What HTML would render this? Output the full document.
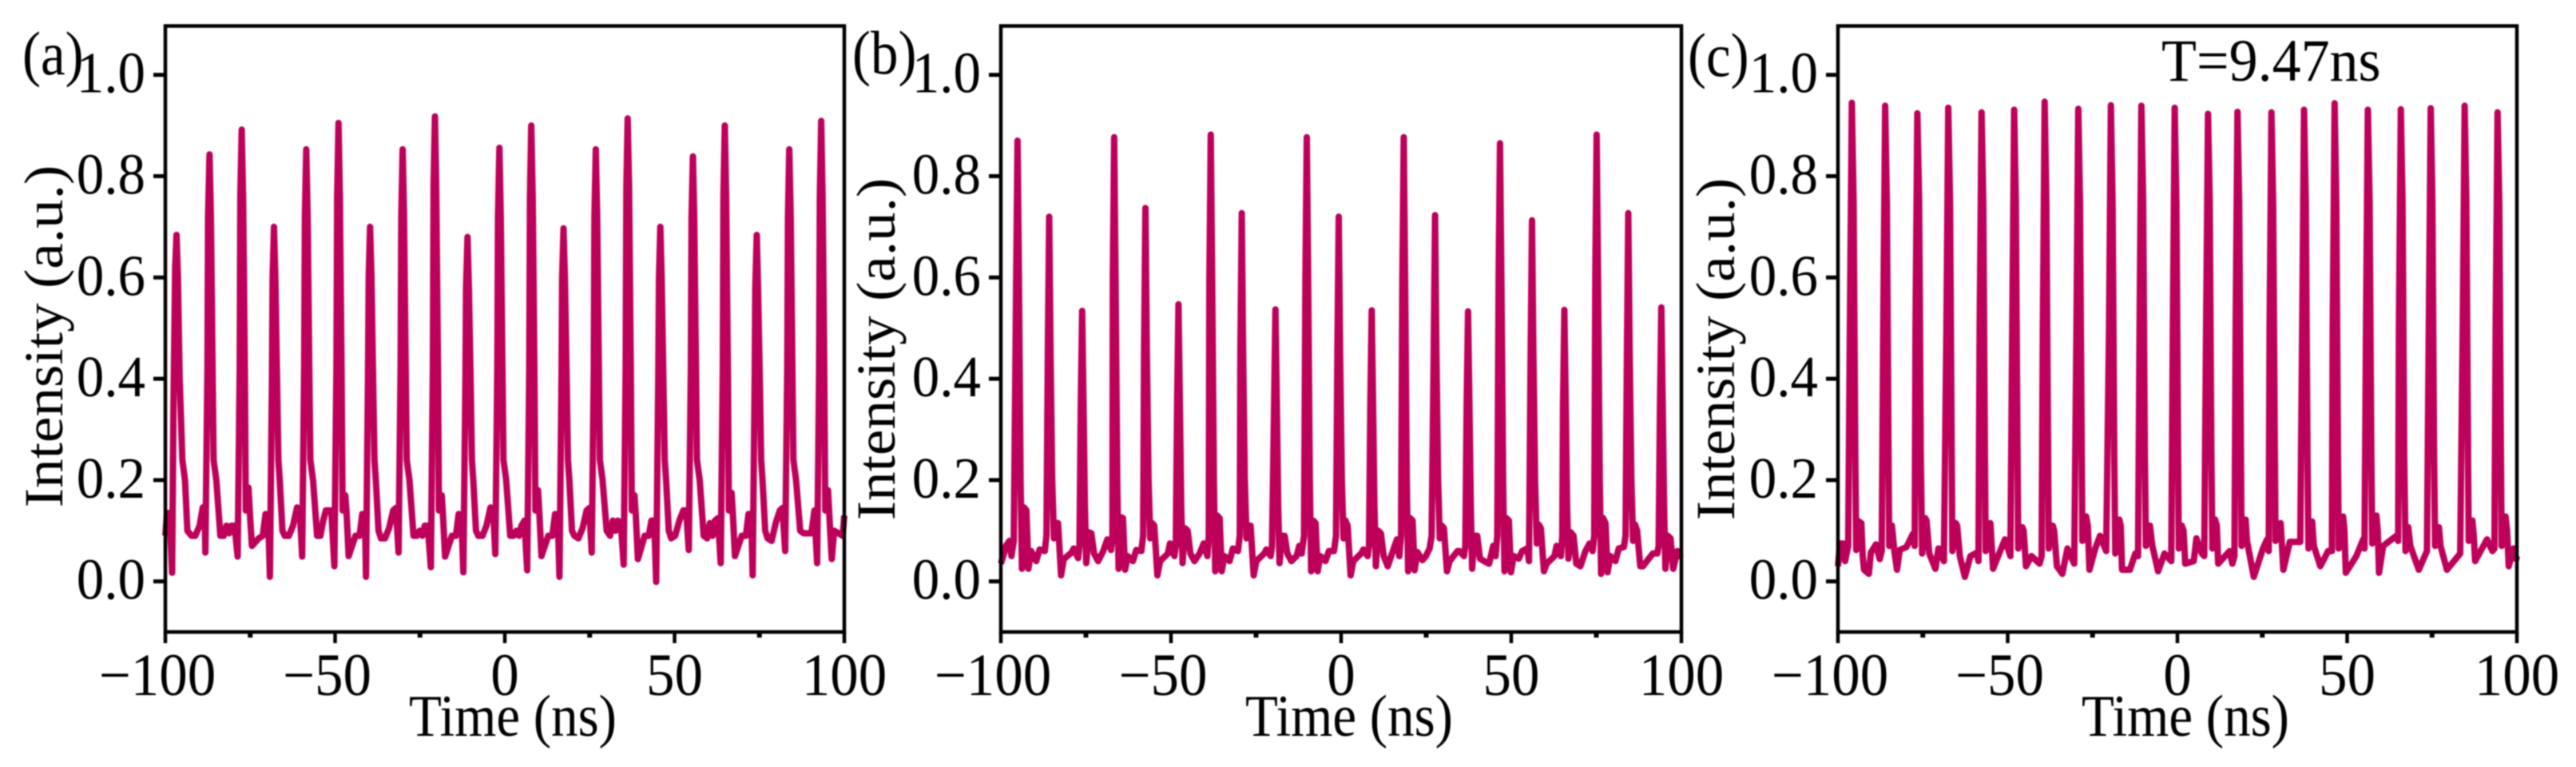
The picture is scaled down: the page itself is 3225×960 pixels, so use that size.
<!DOCTYPE html>
<html lang="en">
<head>
<meta charset="utf-8">
<title>Pulse train intensity vs time</title>
<style>
html,body{margin:0;padding:0;background:#fff;width:3225px;height:960px;overflow:hidden}
svg{display:block;filter:blur(0.7px)}
text{font-family:"Liberation Serif","Times New Roman",serif;fill:#000}
</style>
</head>
<body>
<svg id="figure" xmlns="http://www.w3.org/2000/svg" width="3225" height="960" viewBox="0 0 3225 960"></svg>
<script>
const xTickValues = [-100, -50, 0, 50, 100];
const xMinorTickValues = [-75, -25, 25, 75];
const yTickValues = [0, 0.2, 0.4, 0.6, 0.8, 1.0];
const xTickLabels = ['\u2212100', '\u221250', '0', '50', '100'];
const yTickLabels = ['0.0', '0.2', '0.4', '0.6', '0.8', '1.0'];

const timesA = [
-100,-99.5,-98.8,-98.0,-97.6,-97.1,-96.7,-96.3,-95.8,-95.0,-94.2,-93.5,-92.3,-91.2,-89.9,-89,-88.4,
-88.2,-87.6,-87.4,-87,-86.6,-86.1,-85.8,-85,-83.8,-82.8,-82,-81.2,-80.5,-79.6,
-78.7,-78.1,-77.9,-77.5,-77.1,-76.6,-76.3,-76,-75.5,-75.1,-74.5,-72.5,-71.3,-70.5,-69.7,
-69.2,-68.6,-68.4,-68,-67.6,-67.1,-66.7,-66.3,-65.5,-64.8,-63.6,-62.4,-61.2,-60.4,
-59.7,-59.1,-58.9,-58.5,-58.1,-57.6,-57.3,-56.5,-55.3,-54.3,-53.5,-52.7,-52,-51.1,
-50.2,-49.6,-49.4,-49,-48.6,-48.1,-47.8,-47.5,-47,-46.6,-46,-44,-42.8,-42,-41.2,
-40.9,-40.3,-40.1,-39.7,-39.3,-38.8,-38.4,-38,-37.2,-36.5,-35.3,-34.1,-32.9,-32.1,
-31.3,-30.7,-30.5,-30.1,-29.7,-29.2,-28.9,-28.1,-26.9,-25.9,-25.1,-24.3,-23.6,-22.7,
-21.8,-21.2,-21,-20.6,-20.2,-19.7,-19.4,-19.1,-18.6,-18.2,-17.6,-15.6,-14.4,-13.6,-12.8,
-12.2,-11.6,-11.4,-11,-10.6,-10.1,-9.7,-9.3,-8.5,-7.8,-6.6,-5.4,-4.2,-3.4,
-2.8,-2.2,-2,-1.6,-1.2,-0.7,-0.4,0.4,1.6,2.6,3.4,4.2,4.9,5.8,
6.6,7.2,7.4,7.8,8.2,8.7,9,9.3,9.8,10.2,10.8,12.8,14,14.8,15.6,
16.1,16.7,16.9,17.3,17.7,18.2,18.6,19,19.8,20.5,21.7,22.9,24.1,24.9,
25.6,26.2,26.4,26.8,27.2,27.7,28,28.8,30,31,31.8,32.6,33.3,34.2,
35,35.6,35.8,36.2,36.6,37.1,37.4,37.7,38.2,38.6,39.2,41.2,42.4,43.2,44,
44.6,45.2,45.4,45.8,46.2,46.7,47.1,47.5,48.3,49,50.2,51.4,52.6,53.4,
54.2,54.8,55,55.4,55.8,56.3,56.6,57.4,58.6,59.6,60.4,61.2,61.9,62.8,
63.6,64.2,64.4,64.8,65.2,65.7,66,66.3,66.8,67.2,67.8,69.8,71,71.8,72.6,
73,73.6,73.8,74.2,74.6,75.1,75.5,75.9,76.7,77.4,78.6,79.8,81,81.8,
82.6,83.2,83.4,83.8,84.2,84.7,85,85.8,87,88,88.8,89.6,90.3,91.2,
92,92.6,92.8,93.2,93.6,94.1,94.4,94.7,95.2,95.6,96.3,97,99.5,100
];
const intensityA = [
.09,.135,.135,.017,.35,.62,.684,.6,.4,.24,.2,.1,.09,.09,.11,.146,.14,
.057,.42,.72,.843,.72,.42,.24,.2,.09,.09,.11,.095,.11,.11,
.049,.42,.76,.892,.76,.42,.14,.185,.185,.135,.07,.085,.09,.133,.13,
.009,.4,.6,.70,.6,.4,.24,.2,.1,.09,.09,.11,.146,.14,
.049,.42,.72,.853,.72,.42,.24,.2,.09,.09,.12,.14,.14,.14,
.03,.42,.76,.905,.76,.42,.14,.17,.17,.135,.05,.09,.09,.133,.13,
.009,.4,.6,.7,.6,.4,.24,.2,.1,.085,.085,.105,.14,.145,
.057,.42,.72,.853,.72,.42,.24,.2,.09,.09,.1,.09,.11,.11,
.028,.42,.78,.918,.78,.42,.14,.17,.17,.13,.049,.09,.09,.133,.13,
.018,.4,.58,.68,.58,.4,.24,.2,.1,.09,.09,.11,.146,.14,
.054,.42,.72,.856,.72,.42,.24,.2,.09,.09,.1,.09,.11,.12,
.022,.42,.76,.9,.76,.42,.14,.18,.18,.13,.05,.09,.09,.133,.13,
.009,.4,.6,.697,.6,.4,.24,.2,.1,.09,.085,.105,.14,.145,
.057,.42,.72,.853,.72,.42,.24,.2,.1,.09,.12,.1,.12,.115,
.033,.42,.78,.914,.78,.42,.14,.17,.17,.13,.044,.09,.09,.12,.12,
-.001,.4,.6,.70,.6,.4,.24,.2,.1,.085,.09,.12,.14,.14,
.062,.42,.72,.839,.72,.42,.24,.2,.09,.085,.115,.09,.12,.125,
.036,.42,.76,.90,.76,.42,.14,.175,.175,.13,.05,.09,.09,.133,.133,
.012,.4,.58,.684,.58,.4,.24,.2,.1,.085,.08,.115,.14,.145,
.06,.42,.72,.853,.72,.42,.24,.2,.1,.095,.095,.095,.095,.14,
.036,.42,.76,.909,.76,.42,.14,.18,.18,.13,.044,.1,.09,.13
];

const timesB = [
-100,-99.3,-98.5,-97.5,-96.9,-96.2,
-95.5,-95.1,-94.7,-94.2,-93.8,-93.2,-92.5,-91.9,-91.1,-89.6,-88.6,-87.1,-86.6,
-86.2,-85.8,-85.4,-84.9,-84.4,-83.8,-83.2,-82.3,-81.5,-79.2,-78.6,-77.3,-76.9,
-76.5,-76.1,-75.7,-75.3,-74.9,-74.2,-73.4,-72.6,-71.4,-69.9,-68.7,-67.6,-67.2,
-67.1,-66.7,-66.3,-65.8,-65.4,-64.8,-64.1,-63.5,-62.7,-61.2,-60.2,-58.7,-58.2,
-57.9,-57.5,-57.1,-56.6,-56.1,-55.5,-54.9,-54,-53.2,-50.9,-50.3,-49,-48.6,
-48.2,-47.8,-47.4,-47,-46.6,-45.9,-45.1,-44.3,-43.1,-41.6,-40.4,-39.3,-38.9,
-38.7,-38.3,-37.9,-37.4,-37,-36.4,-35.7,-35.1,-34.3,-32.8,-31.8,-30.3,-29.8,
-29.6,-29.2,-28.8,-28.3,-27.8,-27.2,-26.6,-25.7,-24.9,-22.6,-22,-20.7,-20.3,
-19.7,-19.3,-18.9,-18.5,-18.1,-17.4,-16.6,-15.8,-14.6,-13.1,-12.3,-11.6,-10.9,
-10.5,-10.1,-9.7,-9.2,-8.8,-8.2,-7.5,-6.9,-6.1,-4.6,-3.6,-2.1,-1.5,
-1.1,-0.7,-0.3,0.2,0.7,1.3,1.9,2.8,3.6,5.9,6.5,7.8,8.2,
8.6,9,9.4,9.8,10.2,10.9,11.7,12.5,13.7,15.2,16.4,17.1,17.6,
18,18.4,18.8,19.3,19.7,20.3,21,21.6,22.4,23.9,24.9,26,26.6,
27.2,27.6,28,28.5,29,29.6,30.2,31.1,31.9,34.2,34.8,36.1,36.5,
36.9,37.3,37.7,38.1,38.5,39.2,40,40.8,42,43.5,44.7,45.4,45.9,
46.3,46.7,47.1,47.6,48,48.6,49.3,49.9,50.7,52.2,53.2,54.7,55.2,
55.7,56.1,56.5,57,57.5,58.1,58.7,59.6,60.4,62.7,63.3,64.6,65,
65.2,65.6,66,66.4,66.8,67.5,68.3,69.1,70.3,71.8,73,73.9,74.4,
74.7,75.1,75.5,76,76.4,77,77.7,78.3,79.1,80.6,81.6,83.1,83.6,
84,84.4,84.8,85.3,85.8,86.4,87,87.9,88.7,91,91.6,92.9,93.3,
93.7,94.1,94.5,94.9,95.3,96,96.8,97.6,98.8,99.3,100
];
const intensityB = [
.035,.05,.07,.08,.05,.08,
.6,.87,.6,.2,.025,.146,.14,.025,.06,.04,.063,.06,.09,
.45,.72,.45,.2,.085,.115,.115,.012,.044,.057,.065,.046,.07,
.35,.534,.35,.15,.036,.097,.095,.055,.04,.06,.083,.062,.09,
.6,.877,.6,.2,.025,.127,.125,.023,.05,.04,.062,.06,.09,
.45,.737,.45,.2,.085,.115,.11,.012,.04,.055,.075,.05,.07,
.35,.547,.35,.15,.036,.105,.1,.055,.04,.055,.075,.05,.09,
.6,.882,.6,.2,.02,.13,.125,.02,.05,.04,.065,.06,.09,
.45,.727,.45,.2,.085,.11,.11,.012,.04,.055,.063,.05,.07,
.35,.537,.35,.15,.036,.09,.09,.055,.04,.05,.07,.055,.09,
.6,.877,.6,.2,.02,.12,.115,.02,.05,.04,.06,.06,.09,
.45,.72,.45,.2,.085,.12,.11,.012,.04,.055,.063,.05,.07,
.35,.535,.35,.15,.03,.1,.095,.05,.03,.06,.083,.05,.09,
.6,.877,.6,.2,.02,.125,.12,.022,.058,.042,.05,.065,.09,
.45,.723,.45,.2,.085,.11,.105,.02,.04,.06,.06,.05,.07,
.35,.533,.35,.15,.025,.09,.09,.045,.04,.035,.07,.05,.09,
.6,.865,.6,.2,.02,.125,.12,.018,.05,.045,.06,.065,.04,
.45,.713,.45,.2,.075,.112,.105,.02,.035,.05,.07,.05,.09,
.35,.536,.35,.15,.045,.097,.09,.035,.03,.06,.075,.06,.09,
.6,.882,.6,.2,.015,.125,.115,.018,.05,.04,.065,.068,.09,
.45,.727,.45,.2,.08,.112,.1,.03,.03,.05,.055,.055,.07,
.35,.541,.35,.15,.025,.09,.085,.025,.06,.05,.055
];

const timesC = [
-100,-99.4,-98.4,-97.9,-97,-96.5,-95.9,-95.4,-94.9,-94.6,-94.2,-93.1,-92.7,-92.3,-90.9,-90.3,-88.8,-87.7,-87.1,
-86.65,-86.1,-85.6,-85.1,-84.9,-84.1,-83.4,-82.6,-81.8,-79.8,-77.9,-77.4,
-77.15,-76.6,-76.1,-75.6,-75.2,-74.3,-73.9,-73.1,-71.3,-70.4,-68.8,
-68.05,-67.5,-67,-66.5,-66.3,-65.3,-64.9,-64.1,-62.6,-61,-59,-58.6,
-58.25,-57.7,-57.2,-56.7,-56.5,-55.9,-55.1,-54.3,-52.4,-50.8,-49.2,
-48.65,-48.1,-47.6,-47.1,-46.9,-45.7,-45.3,-44.6,-43,-40.6,-40,
-39.65,-39.1,-38.6,-38.1,-37.9,-36.7,-36.3,-35.5,-33.9,-32.4,-30.4,
-29.75,-29.2,-28.7,-28.2,-28,-26.9,-26.4,-25.9,-24.2,-22.8,-21,
-20.15,-19.6,-19.1,-18.6,-18.3,-17.1,-16.7,-16.3,-14,-12.4,-11.6,
-11.15,-10.6,-10.1,-9.6,-9.3,-8.1,-7.4,-5.7,-3.8,-1.8,
-1.35,-0.8,-0.3,0.2,0.4,1.3,1.8,2.3,4.8,5.6,7.2,7.9,
8.45,9,9.5,10,10.3,11.1,11.6,12,15.4,16.2,16.8,
17.15,17.7,18.2,18.7,18.9,20.1,20.5,22.5,25.2,26.4,26.9,
27.15,27.7,28.2,28.7,28.9,30.4,30.8,31.2,33.1,36.2,
36.75,37.3,37.8,38.3,38.6,39.7,40.2,42.1,44.4,45.5,
45.75,46.3,46.8,47.3,47.5,48.8,49.2,49.6,52.7,54.7,55.1,
55.55,56.1,56.6,57.1,57.4,58.6,59,59.4,60.6,64.5,65,
65.25,65.8,66.3,66.8,67.2,68,68.6,71.1,73.5,
74.05,74.6,75.1,75.6,75.9,77,77.5,79.4,83.3,
84.05,84.6,85.1,85.6,85.8,86.9,87.3,87.7,91.2,92.8,93.4,
93.75,94.3,94.8,95.3,95.5,96.65,97.1,97.6,99,99.8,100
];
const intensityC = [
.03,.075,.075,.04,.07,.5,.945,.75,.25,.062,.12,.115,.05,.023,.015,.057,.073,.044,.06,
.5,.939,.75,.25,.07,.11,.06,.023,.062,.068,.094,.07,
.5,.924,.75,.25,.055,.125,.12,.055,.025,.065,.04,
.5,.935,.75,.25,.06,.115,.11,.05,.009,.05,.057,.04,
.5,.926,.75,.25,.06,.08,.115,.025,.057,.083,.05,
.5,.931,.75,.25,.065,.107,.1,.03,.05,.035,.05,
.5,.947,.75,.25,.065,.11,.1,.03,.015,.065,.035,
.5,.933,.75,.25,.08,.128,.11,.023,.065,.09,.06,
.5,.94,.75,.25,.055,.122,.11,.023,.023,.055,.05,
.5,.939,.75,.25,.07,.11,.07,.02,.055,.04,
.5,.935,.75,.25,.065,.11,.1,.035,.04,.085,.055,.05,
.5,.923,.75,.25,.065,.122,.11,.035,.06,.035,.05,
.5,.927,.75,.25,.07,.122,.08,.009,.065,.083,.06,
.5,.926,.75,.25,.08,.115,.07,.023,.078,.078,
.5,.931,.75,.25,.065,.118,.07,.03,.06,.06,
.5,.944,.75,.25,.065,.128,.1,.017,.05,.083,.065,
.5,.931,.75,.25,.075,.13,.1,.017,.07,.09,.08,
.5,.932,.75,.25,.06,.107,.07,.023,.06,
.5,.934,.75,.25,.07,.107,.07,.023,.055,
.5,.939,.75,.25,.08,.12,.09,.04,.083,.06,.065,
.5,.926,.75,.25,.07,.128,.1,.03,.065,.044,.05
];

const NS = 'http://www.w3.org/2000/svg';
const figure = document.getElementById('figure');
const lineColor = '#bd0059';

function make(tag, attrs, parent) {
  const node = document.createElementNS(NS, tag);
  for (const key in attrs) node.setAttribute(key, attrs[key]);
  parent.appendChild(node);
  return node;
}
function label(content, x, y, size, stretch, anchor, parent) {
  const node = make('text', {
    transform: 'translate(' + x + ',' + y + ') scale(1,' + stretch + ')',
    'font-size': size,
    'text-anchor': anchor
  }, parent);
  node.textContent = content;
  return node;
}

function drawPanel(key, times, intensity, left, right, letter, letterX, letterY, yTitleX, yTitleY) {
  const top = 32.5, bottom = 791;
  const xScale = function (t) { return left + (t + 100) * (right - left) / 200; };
  const yScale = function (v) { return 727.7 - 634 * v; };

  const panel = make('g', {}, figure);
  
  

  let d = '';
  for (let i = 0; i < times.length && i < intensity.length; i++) {
    d += (i ? 'L' : 'M') + xScale(times[i]).toFixed(1) + ' ' + yScale(intensity[i]).toFixed(1);
  }
  const trace = make('path', {
    d: d, fill: 'none', stroke: lineColor, 'stroke-width': 8,
    'stroke-linejoin': 'round', 'stroke-linecap': 'butt'
  }, panel);
  
  

  const frame = make('rect', {
    x: left, y: top, width: right - left, height: bottom - top,
    fill: 'none', stroke: '#000', 'stroke-width': 4.5
  }, panel);
  
  

  xTickValues.forEach(function (value, i) {
    const px = xScale(value);
    const tick = make('line', { x1: px, x2: px, y1: bottom, y2: 805, stroke: '#000', 'stroke-width': 4.5 }, panel);
    
    
    const text = label(xTickLabels[i], px + (value < 0 ? -10 : 0), 870, 71, 1.06, 'middle', panel);
    
    
  });
  xMinorTickValues.forEach(function (value) {
    const px = xScale(value);
    const tick = make('line', { x1: px, x2: px, y1: bottom, y2: 798, stroke: '#000', 'stroke-width': 6 }, panel);
    
    
  });
  yTickValues.forEach(function (value, i) {
    const py = yScale(value);
    const tick = make('line', { x1: left - 15, x2: left, y1: py, y2: py, stroke: '#000', 'stroke-width': 5 }, panel);
    
    
    const text = label(yTickLabels[i], left - 25, py + 22, 69, 1.06, 'end', panel);
    
    
  });

  const xTitle = label('Time (ns)', (left + right) / 2 + 10, 921, 67, 1.1, 'middle', panel);
  
  

  const yTitle = make('text', {
    transform: 'translate(' + yTitleX + ',' + yTitleY + ') scale(0.97,1.03) rotate(-90)',
    'font-size': 71, 'text-anchor': 'middle'
  }, panel);
  yTitle.textContent = 'Intensity (a.u.)';
  
  

  const tag = label(letter, letterX, letterY, 69, 1.12, 'start', panel);
  
  
}

drawPanel('a', timesA, intensityA, 207, 1057, '(a)', 28, 93, 78, 421);
drawPanel('b', timesB, intensityB, 1253, 2105, '(b)', 1067, 92, 1120, 437);
drawPanel('c', timesC, intensityC, 2301, 3151, '(c)', 2113, 95, 2171, 437);

const period = label('T=9.47ns', 2706, 101, 72, 1.05, 'start', figure);


</script>
</body>
</html>
